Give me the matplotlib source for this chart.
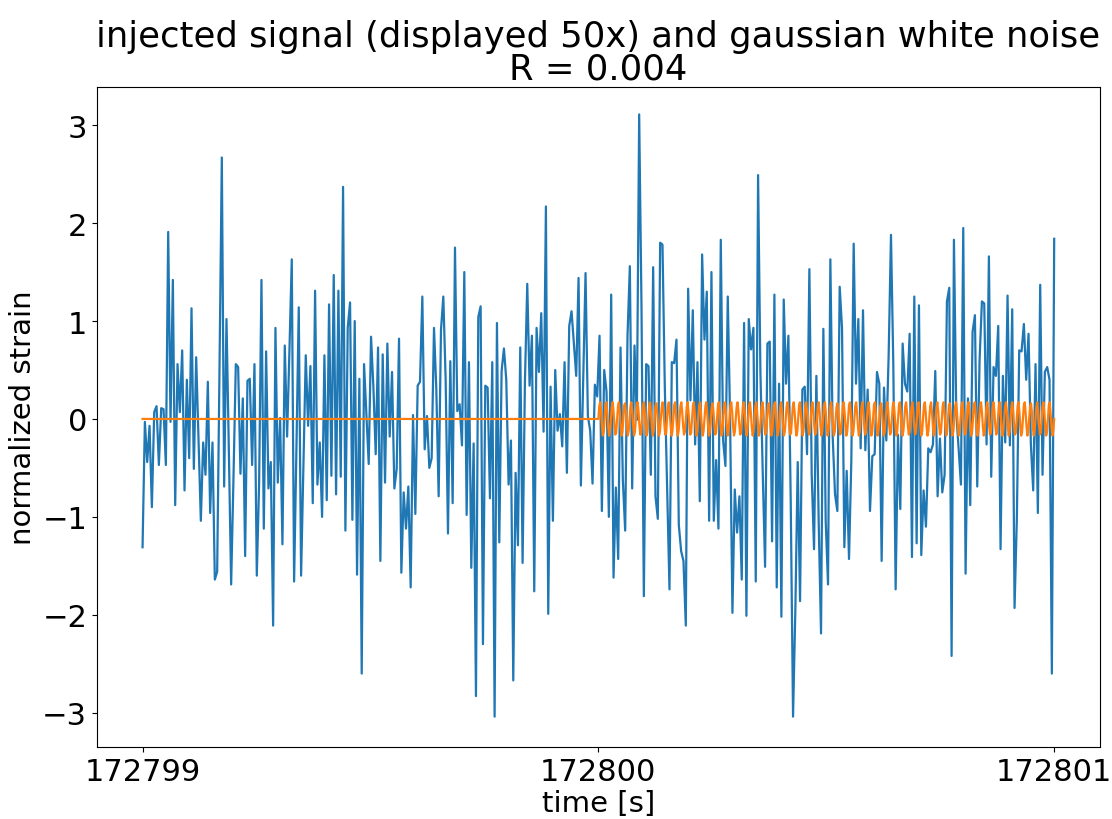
import numpy as np
import matplotlib
matplotlib.use("Agg")
import matplotlib.pyplot as plt

# whitened detector strain, 2 s window
t_start = 172799.0
t_stop = 172801.0
strain = [
    -1.31, -0.03, -0.44, -0.07, -0.90, 0.07, 0.13, -0.47, 0.11, 0.10, -0.47, 1.91, -0.03, 1.42, -0.88, 0.56,
    0.07, 0.70, -0.73, 0.40, -0.40, 1.13, -0.51, 0.63, -0.20, -1.04, -0.24, -0.57, 0.38, -0.96, -0.24, -1.64,
    -1.56, 0.50, 2.67, -0.69, 1.02, -0.30, -1.69, -0.60, 0.56, 0.53, -0.56, 0.21, -1.40, 0.39, 0.41, -0.47,
    0.56, -1.60, -0.65, 1.42, -1.12,
    0.69, -0.71, -0.44, -2.11, 0.93, -0.65, 0.01, -1.28, 0.75, -0.18, 0.70, 1.63, -1.66, -0.30, 1.14, -1.60,
    -0.50, 0.65, -0.07, 0.54, -0.86, 1.31, -0.67, -0.24, -1.00, 0.65, -0.83, 1.17, -0.58, 1.47, -0.77, 1.31,
    -0.59, 2.37, -1.14, 0.93, 1.19, -1.03, 1.00, -1.59, 0.41, -2.60, 0.56, 0.05, -0.46, 0.84, 0.33, -0.36,
    0.73, -1.45, 0.66, -0.65, 0.77,
    -0.18, 0.48, -0.71, -0.51, 0.82, -1.57, -0.75, -1.12, -0.69, -1.72, 0.04, -0.97, 0.34, 0.38, 1.25, -0.31,
    0.03, -0.50, -0.40, 0.93, 0.30, -0.79, 0.91, 1.25, 0.40, -1.17, 0.59, -0.86, 1.75, 0.08, 0.15, -0.27,
    1.50, -0.98, 0.58, -1.52, -0.25, -2.83, 1.04, 1.15, -2.30, 0.34, 0.32, -0.81, 0.58, -3.04, 0.98, -1.26,
    0.49, 0.72, 0.40, -0.67, -0.22, -2.67, -0.55,
    -1.29, 0.73, -1.47, 0.38, 1.38, 0.34, 0.85, -1.76, 0.93, 0.48, 1.08, -0.13, 2.17, -1.99, 0.33, -1.04,
    0.50, -0.12, 0.05, -0.28, 0.58, -0.55, 0.95, 1.10, 0.77, 0.44, 1.44, -0.68, 0.40, 1.49, 0.03, -0.12,
    -0.66, 0.35, 0.23, 0.85, -0.94, 0.50, 0.28, -1.00, 1.27, -1.62, -0.70, -1.43, 0.73, -0.63, -1.14, 0.85,
    1.56, -0.71, 0.75, -0.01,
    3.11, 1.14, -1.81, 0.56, 0.54, -0.57, 1.55, -0.79, -1.02, 1.80, 1.78, 0.32, -0.70, -1.74, 0.58, 0.57,
    0.81, -1.08, -1.35, -1.45, -2.11, 1.33, 0.19, 1.11, -0.26, 0.58, -0.84, 1.68, 0.81, 1.30, -1.04, 1.50,
    -1.04, -0.42, -1.12, 1.83, -0.22, -0.48, 1.25, -0.01, -1.98, -0.72, -1.16, -0.79, -1.64, 0.98, -2.01, 1.02,
    0.71, 0.93, -1.66, 2.49, 0.48, -0.55, -1.51,
    0.77, 0.79, -1.25, 1.27, -1.72, 0.36, -2.02, 1.22, 0.36, 0.85, -0.84, -3.04, -1.93, -0.44, -1.86, 0.30,
    0.33, -0.36, 1.53, -0.57, -1.33, 0.44, -1.06, -2.19, 0.92, -1.04, -1.69, 1.63, -0.18, -0.77, -0.94, 1.35,
    0.93, -1.31, -0.53, -1.43, -0.42, 1.79, 0.36, 1.02, -0.30, 1.11, -0.32, 0.30, -0.94, -0.38, -0.36, 0.48,
    0.36, -1.45, 0.32, -0.22, 0.65, 1.88,
    0.56, -1.74, -0.16, -0.92, 0.77, 0.36, 0.28, 0.87, -1.41, 1.25, -1.27, 1.16, -1.39, -0.73, -1.10, -0.30,
    -0.34, -0.26, 0.49, -0.79, -0.20, -0.75, -0.57, 1.20, 1.34, -2.42, 1.83, 0.07, -0.30, -0.67, 1.95, -1.58,
    0.21, -0.88, 0.89, 1.06, -0.69, 0.60, 1.20, 1.18, -0.26, 1.66, -0.59, 0.53, 0.44, 0.95, -1.33, 0.44,
    -0.24, 1.26, -0.27, 1.12, -1.93,
    -1.00, 0.70, 0.69, 0.97, 0.40, 0.87, -0.26, -0.73, 0.56, -0.96, 1.37, -0.57, 0.48, 0.53, 0.40, -2.60,
    1.84,
]

# injected waveform (scaled by 50 for display), switched on at t_inject
t_inject = 172800.0
signal = [
    0.00, 0.13, 0.17, 0.07, -0.07, -0.17, -0.13, 0.01, 0.14, 0.17, 0.06, -0.08, -0.17, -0.12,
    -0.01, 0.12, 0.17, 0.08, -0.06, -0.16, -0.14, 0.00, 0.13, 0.17, 0.07, -0.07, -0.17, -0.13,
    0.01, 0.14, 0.16, 0.06, -0.08, -0.17, -0.12, 0.00, 0.13, 0.17, 0.07, -0.07, -0.17, -0.13,
    -0.01, 0.12, 0.17, 0.08, -0.06, -0.16, -0.14, 0.00, 0.13, 0.17, 0.07, -0.07, -0.17, -0.13,
    0.01, 0.14, 0.17, 0.06, -0.08, -0.17, -0.12, 0.00, 0.13, 0.16, 0.07, -0.07, -0.17, -0.13,
    -0.01, 0.12, 0.17, 0.08, -0.06, -0.16, -0.14, 0.00, 0.13, 0.17, 0.07, -0.07, -0.17, -0.13,
    0.01, 0.14, 0.17, 0.06, -0.08, -0.17, -0.12, 0.00, 0.13, 0.17, 0.07, -0.07, -0.16, -0.13,
    -0.01, 0.12, 0.17, 0.08, -0.06, -0.16, -0.14, 0.00, 0.13, 0.17, 0.07, -0.07, -0.17, -0.13,
    0.01, 0.14, 0.17, 0.06, -0.08, -0.17, -0.12, 0.00, 0.13, 0.17, 0.07, -0.07, -0.17, -0.13,
    -0.01, 0.12, 0.16, 0.08, -0.06, -0.16, -0.14, 0.00, 0.13, 0.17, 0.07, -0.07, -0.17, -0.13,
    0.01, 0.14, 0.17, 0.06, -0.08, -0.17, -0.12, 0.00, 0.13, 0.17, 0.07, -0.07, -0.17, -0.13,
    -0.01, 0.12, 0.17, 0.08, -0.06, -0.16, -0.14, 0.00, 0.13, 0.17, 0.07, -0.07, -0.17, -0.13,
    0.01, 0.14, 0.17, 0.06, -0.08, -0.17, -0.12, 0.00, 0.13, 0.17, 0.07, -0.07, -0.17, -0.13,
    -0.01, 0.12, 0.17, 0.08, -0.06, -0.16, -0.14, 0.00, 0.13, 0.16, 0.07, -0.07, -0.17, -0.13,
    0.01, 0.14, 0.17, 0.06, -0.08, -0.17, -0.12, 0.00, 0.13, 0.17, 0.07, -0.07, -0.17, -0.13,
    -0.01, 0.12, 0.17, 0.08, -0.06, -0.16, -0.14, 0.00, 0.13, 0.17, 0.07, -0.07, -0.17, -0.13,
    0.01, 0.14, 0.17, 0.06, -0.08, -0.17, -0.12, 0.00, 0.13, 0.17, 0.07, -0.07, -0.16, -0.13,
    -0.01, 0.12, 0.17, 0.08, -0.06, -0.16, -0.14, 0.00, 0.13, 0.17, 0.07, -0.07, -0.17, -0.13,
    0.01, 0.14, 0.17, 0.06, -0.08, -0.17, -0.12, 0.00, 0.13, 0.17, 0.07, -0.07, -0.17, -0.13,
    -0.01, 0.12, 0.16, 0.08, -0.06, -0.16, -0.14, 0.00, 0.13, 0.17, 0.07, -0.07, -0.17, -0.13,
    0.01, 0.14, 0.17, 0.06, -0.08, -0.17, -0.12, 0.00, 0.13, 0.17, 0.07, -0.07, -0.17, -0.13,
    -0.01, 0.12, 0.17, 0.08, -0.06, -0.16, -0.14, 0.00, 0.13, 0.17, 0.07, -0.07, -0.17, -0.13,
    0.01, 0.14, 0.17, 0.06, -0.08, -0.17, -0.12, 0.00, 0.13, 0.16, 0.07, -0.07, -0.17, -0.13,
    -0.01, 0.12, 0.17, 0.08, -0.06, -0.16, -0.14, 0.00, 0.13, 0.17, 0.07, -0.07, -0.17, -0.13,
    0.01, 0.14, 0.17, 0.06, -0.08, -0.17, -0.12, 0.00, 0.13, 0.17, 0.07, -0.07, -0.16, -0.13,
    -0.01, 0.12, 0.17, 0.08, -0.06, -0.16, -0.14, 0.00, 0.13, 0.17, 0.07, -0.07, -0.17, -0.13,
    0.01, 0.14, 0.17, 0.06, -0.08, -0.17, -0.12, 0.00, 0.13, 0.17, 0.07, -0.07, -0.17, -0.13,
    -0.01, 0.12, 0.17, 0.08, -0.06, -0.16, -0.14, 0.00, 0.13, 0.17, 0.07, -0.07, -0.17, -0.13,
    0.01, 0.14, 0.16, 0.06, -0.08, -0.17, -0.12, 0.00, 0.13, 0.17, 0.07, -0.07, -0.17, -0.13,
    -0.01, 0.12, 0.17, 0.08, -0.06, -0.16, -0.14, 0.00, 0.13, 0.17, 0.07, -0.07, -0.17, -0.13,
    0.01, 0.14, 0.17, 0.06, -0.08, -0.17, -0.12, 0.00, 0.13, 0.17, 0.07, -0.07, -0.17, -0.13,
    -0.01, 0.12, 0.17, 0.08, -0.06, -0.16, -0.14, 0.00, 0.13, 0.17, 0.07, -0.07, -0.16, -0.13,
    0.01, 0.14, 0.17, 0.06, -0.08, -0.17, -0.12, 0.00, 0.13, 0.17, 0.07, -0.07, -0.17, -0.13,
    -0.01, 0.12, 0.17, 0.08, -0.06, -0.16, -0.14, 0.00, 0.13, 0.17, 0.07, -0.07, -0.17, -0.13,
    0.01, 0.14, 0.17, 0.06, -0.08, -0.17, -0.12, 0.00, 0.13, 0.16, 0.07, -0.07, -0.17, -0.13,
    -0.01, 0.12, 0.17, 0.08, -0.06, -0.16, -0.14, 0.00, 0.13, 0.17, 0.07, -0.07, -0.17, -0.13,
    0.01, 0.14, 0.17, 0.06, -0.08, -0.17, -0.12, 0.00,
]

x_ticks = [172799, 172800, 172801]
title_text = "injected signal (displayed 50x) and gaussian white noise\nR = 0.004"
x_label = "time [s]"
y_label = "normalized strain"

t_noise = np.linspace(t_start, t_stop, len(strain))
t_sig = np.concatenate([[t_start], np.linspace(t_inject, t_stop, len(signal))])
sig_full = np.concatenate([[0.0], signal])

fig = plt.figure(figsize=(11.12, 8.2), dpi=100)
ax = fig.add_axes([0.0872, 0.0878, 0.9018, 0.8049])

ax.plot(t_noise, strain, color="#1f77b4", linewidth=1.6)
ax.plot(t_sig, sig_full, color="#ff7f0e", linewidth=1.6)

ax.set_xticks(x_ticks)
ax.ticklabel_format(axis="x", useOffset=False, style="plain")
ax.set_ylim(-3.35, 3.39)
ax.tick_params(labelsize=22)
ax.set_xlabel(x_label, fontsize=21, labelpad=2)
ax.set_ylabel(y_label, fontsize=21)
ax.set_title(title_text, fontsize=25.5, pad=6, linespacing=0.95)

fig.savefig("out.png", dpi=100)
